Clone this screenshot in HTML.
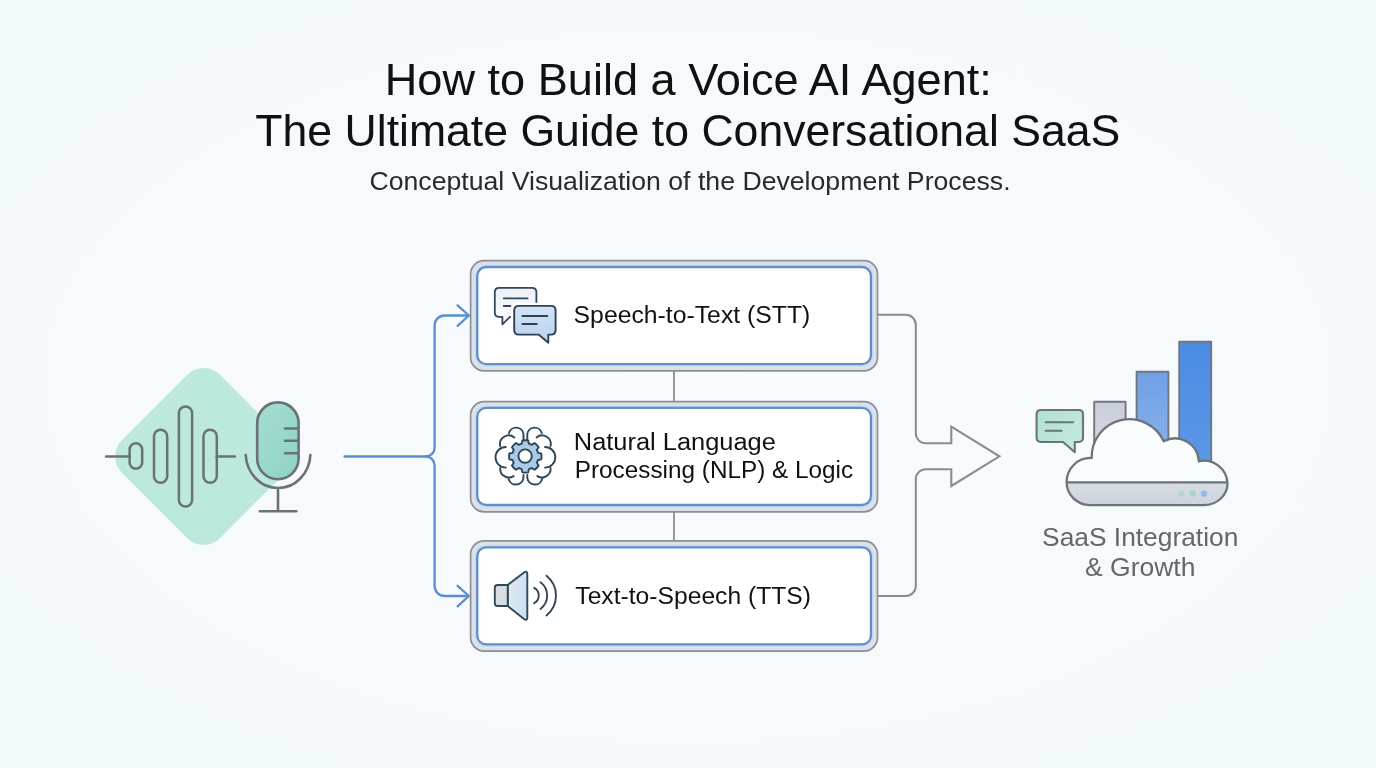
<!DOCTYPE html>
<html lang="en">
<head>
<meta charset="utf-8">
<title>How to Build a Voice AI Agent</title>
<style>
  html, body { margin: 0; padding: 0; }
  body {
    width: 1376px; height: 768px; overflow: hidden;
    background: #f5fafc;
    font-family: "Liberation Sans", sans-serif;
  }
  svg { will-change: transform; display: block; position: absolute; left: 0; top: 0; }
  text { font-family: "Liberation Sans", sans-serif; }
</style>
</head>
<body>
<svg width="1376" height="768" viewBox="0 0 1376 768">
  <defs>
    <radialGradient id="bg" cx="50%" cy="50%" r="75%">
      <stop offset="0" stop-color="#f8fbfc"/>
      <stop offset="0.6" stop-color="#f6fafc"/>
      <stop offset="1" stop-color="#f2f9fb"/>
    </radialGradient>
    <linearGradient id="micFill" x1="0" y1="0" x2="1" y2="1">
      <stop offset="0" stop-color="#a5ddd1"/>
      <stop offset="1" stop-color="#8fd3c6"/>
    </linearGradient>
    <linearGradient id="bubbleBlue" x1="0" y1="0" x2="0" y2="1">
      <stop offset="0" stop-color="#d3e3f5"/>
      <stop offset="1" stop-color="#b8d2ee"/>
    </linearGradient>
    <linearGradient id="bubbleGray" x1="0" y1="0" x2="0" y2="1">
      <stop offset="0" stop-color="#eef1f5"/>
      <stop offset="1" stop-color="#fafbfc"/>
    </linearGradient>
    <linearGradient id="coneFill" x1="0" y1="0" x2="1" y2="0">
      <stop offset="0" stop-color="#dde9f5"/>
      <stop offset="1" stop-color="#cddff1"/>
    </linearGradient>
    <linearGradient id="bar1" x1="0" y1="0" x2="0" y2="1">
      <stop offset="0" stop-color="#c9ced9"/>
      <stop offset="1" stop-color="#d9dde5"/>
    </linearGradient>
    <linearGradient id="bar2" x1="0" y1="0" x2="0" y2="1">
      <stop offset="0" stop-color="#6fa0e6"/>
      <stop offset="1" stop-color="#8fb5ea"/>
    </linearGradient>
    <linearGradient id="bar3" x1="0" y1="0" x2="0" y2="1">
      <stop offset="0" stop-color="#4a8be4"/>
      <stop offset="1" stop-color="#5e98e6"/>
    </linearGradient>
    <linearGradient id="cloudBase" x1="0" y1="0" x2="0" y2="1">
      <stop offset="0" stop-color="#d9dde5"/>
      <stop offset="1" stop-color="#cdd2dc"/>
    </linearGradient>
    <linearGradient id="greenBubble" x1="0" y1="0" x2="1" y2="1">
      <stop offset="0" stop-color="#b0e0d2"/>
      <stop offset="1" stop-color="#c8eadf"/>
    </linearGradient>
  </defs>

  <!-- background -->
  <rect x="0" y="0" width="1376" height="768" fill="url(#bg)"/>

  <!-- TITLE -->
  <g id="title" fill="#111" text-anchor="middle">
    <text x="688.3" y="95" font-size="43.6" textLength="607.2" lengthAdjust="spacingAndGlyphs">How to Build a Voice AI Agent:</text>
    <text x="687.8" y="146" font-size="43.6" textLength="865" lengthAdjust="spacingAndGlyphs">The Ultimate Guide to Conversational SaaS</text>
    <text x="690" y="190.4" font-size="25.3" fill="#2a2a2a" textLength="641.2" lengthAdjust="spacingAndGlyphs">Conceptual Visualization of the Development Process.</text>
  </g>

  <!-- LEFT: diamond + waveform + mic -->
  <g id="voice">
    <rect x="134.3" y="387.2" width="138.6" height="138.6" rx="23" ry="23" fill="#bde8dc" transform="rotate(45 203.6 456.5)"/>
    <!-- mic body -->
    <rect x="257.2" y="402.4" width="41.4" height="76.8" rx="20.7" ry="20.7" fill="url(#micFill)" stroke="#697277" stroke-width="2.6"/>
    <g fill="none" stroke="#697277" stroke-width="2.5" stroke-linecap="round">
      <!-- waveform -->
      <path d="M106 456.5 H129.6"/>
      <rect x="129.6" y="443.2" width="12.6" height="25.6" rx="6.3"/>
      <rect x="154" y="429.8" width="13.2" height="53" rx="6.6"/>
      <rect x="178.9" y="406.4" width="13.2" height="100.2" rx="6.6"/>
      <rect x="203.5" y="429.8" width="13.3" height="53" rx="6.6"/>
      <path d="M216.8 456.5 H234.8"/>
      <!-- mic lines -->
      <path d="M285 428.4 H298 M285 440.8 H298 M285 453.2 H298"/>
      <!-- mic arc, stem, base -->
      <path d="M245.7 455 A32.4 35 0 0 0 310.4 455" stroke-width="2.6"/>
      <path d="M278 490 V511.3 M259.8 511.3 H296.4" stroke-width="2.6"/>
    </g>
  </g>

  <!-- BLUE CONNECTORS -->
  <g id="blueconn" fill="none" stroke="#5c8dcf" stroke-width="2.3" stroke-linecap="round" stroke-linejoin="round">
    <path d="M344.5 456.5 H425.8"/>
    <path d="M425.8 456.5 A8.8 8.8 0 0 0 434.6 447.7 V325.5 A10 10 0 0 1 444.6 315.5 H468.6"/>
    <path d="M425.8 456.5 A8.8 8.8 0 0 1 434.6 465.3 V586 A10 10 0 0 0 444.6 596 H468.6"/>
    <path d="M457.6 305.3 L468.9 315.5 L457.6 325.8"/>
    <path d="M457.6 585.8 L468.9 596 L457.6 606.3"/>
  </g>

  <!-- GRAY CONNECTORS + BIG ARROW -->
  <g id="grayconn" fill="none" stroke="#898e96" stroke-width="2.1" stroke-linejoin="miter">
    <path d="M674 371 V401.5 M674 512 V540.5" stroke-width="1.8"/>
    <path d="M878 314.8 H905.8 A10 10 0 0 1 915.8 324.8 V433.3 A10 10 0 0 0 925.8 443.3 H951.3 V426.6 L999.4 456.3 L951.3 486 V469.2 H925.8 A10 10 0 0 0 915.8 479.2 V586 A10 10 0 0 1 905.8 596 H878"/>
  </g>

  <!-- BOXES -->
  <g id="boxes">
    <g id="box1">
      <rect x="470.6" y="260.7" width="406.9" height="110.2" rx="13.5" fill="#dce0e7" stroke="#8b9097" stroke-width="1.7"/>
      <rect x="477.25" y="267" width="393.7" height="97.1" rx="9" fill="none" stroke="#c9dbf1" stroke-width="4.6"/>
      <rect x="477.25" y="267" width="393.7" height="97.1" rx="9" fill="#ffffff" stroke="#5f8fcd" stroke-width="2.3"/>
    </g>
    <g id="box2">
      <rect x="470.6" y="401.6" width="406.9" height="110.2" rx="13.5" fill="#dce0e7" stroke="#8b9097" stroke-width="1.7"/>
      <rect x="477.25" y="407.9" width="393.7" height="97.1" rx="9" fill="none" stroke="#c9dbf1" stroke-width="4.6"/>
      <rect x="477.25" y="407.9" width="393.7" height="97.1" rx="9" fill="#ffffff" stroke="#5f8fcd" stroke-width="2.3"/>
    </g>
    <g id="box3">
      <rect x="470.6" y="540.9" width="406.9" height="110.2" rx="13.5" fill="#dce0e7" stroke="#8b9097" stroke-width="1.7"/>
      <rect x="477.25" y="547.3" width="393.7" height="97.1" rx="9" fill="none" stroke="#c9dbf1" stroke-width="4.6"/>
      <rect x="477.25" y="547.3" width="393.7" height="97.1" rx="9" fill="#ffffff" stroke="#5f8fcd" stroke-width="2.3"/>
    </g>
  </g>

  <!-- BOX LABELS -->
  <g id="labels" fill="#111" font-size="23.3">
    <text x="573.6" y="322.6" textLength="236.7" lengthAdjust="spacingAndGlyphs">Speech-to-Text (STT)</text>
    <text x="573.8" y="450.2" textLength="202.1" lengthAdjust="spacingAndGlyphs">Natural Language</text>
    <text x="574.8" y="478.3" textLength="278.3" lengthAdjust="spacingAndGlyphs">Processing (NLP) &amp; Logic</text>
    <text x="575.3" y="603.5" textLength="235.7" lengthAdjust="spacingAndGlyphs">Text-to-Speech (TTS)</text>
  </g>

  <!-- ICONS placeholder -->
  <g id="icon-chat" stroke-linejoin="round" stroke-linecap="round">
    <!-- back bubble -->
    <path d="M499.2 287.8 H532 Q536.4 287.8 536.4 292.2 V312.4 Q536.4 316.8 532 316.8 H510 L502.4 324.3 V316.8 H499.2 Q494.8 316.8 494.8 312.4 V292.2 Q494.8 287.8 499.2 287.8 Z" fill="url(#bubbleGray)" stroke="#33475a" stroke-width="1.8"/>
    <path d="M503.8 298.4 H527.6 M503.8 306 H510.4" fill="none" stroke="#33475a" stroke-width="1.8"/>
    <!-- front bubble (white halo first) -->
    <path d="M518.8 305.9 H551 Q555.6 305.9 555.6 310.5 V330 Q555.6 334.6 551 334.6 H548.3 V342.8 L538.6 334.6 H518.8 Q514.2 334.6 514.2 330 V310.5 Q514.2 305.9 518.8 305.9 Z" fill="#ffffff" stroke="#ffffff" stroke-width="6.4"/>
    <path d="M518.8 305.9 H551 Q555.6 305.9 555.6 310.5 V330 Q555.6 334.6 551 334.6 H548.3 V342.8 L538.6 334.6 H518.8 Q514.2 334.6 514.2 330 V310.5 Q514.2 305.9 518.8 305.9 Z" fill="url(#bubbleBlue)" stroke="#2d4256" stroke-width="1.9"/>
    <path d="M522.4 316 H547.4 M522.4 324 H536.8" fill="none" stroke="#2d4256" stroke-width="1.9"/>
  </g>
  <g id="icon-brain" transform="translate(525.1 455.7)" fill="none" stroke="#2f4558" stroke-width="1.9" stroke-linecap="round" stroke-linejoin="round">
    <path id="hemi" d="M-16.1 -22.6 A7.4 7.4 0 0 1 -1.6 -21.5 V-16.2
      M-24.9 -9.6 A8.7 8.7 0 0 1 -10.8 -18.2
      M-19.3 -8.7 A10.3 10.3 0 0 0 -19.3 11.9
      M-24.9 12.4 A8.7 8.7 0 0 0 -11.6 20.4
      M-16.5 23.2 A7.6 7.6 0 0 0 -1.6 22 V19.2"/>
    <use href="#hemi" transform="translate(0.6 0) scale(-1 1)"/>
    <path d="M-3.58 -12.70L-2.91 -15.94A16.2 16.2 0 0 1 2.91 -15.94L3.58 -12.70A13.2 13.2 0 0 1 6.45 -11.52L9.21 -13.33A16.2 16.2 0 0 1 13.33 -9.21L11.52 -6.45A13.2 13.2 0 0 1 12.70 -3.58L15.94 -2.91A16.2 16.2 0 0 1 15.94 2.91L12.70 3.58A13.2 13.2 0 0 1 11.52 6.45L13.33 9.21A16.2 16.2 0 0 1 9.21 13.33L6.45 11.52A13.2 13.2 0 0 1 3.58 12.70L2.91 15.94A16.2 16.2 0 0 1 -2.91 15.94L-3.58 12.70A13.2 13.2 0 0 1 -6.45 11.52L-9.21 13.33A16.2 16.2 0 0 1 -13.33 9.21L-11.52 6.45A13.2 13.2 0 0 1 -12.70 3.58L-15.94 2.91A16.2 16.2 0 0 1 -15.94 -2.91L-12.70 -3.58A13.2 13.2 0 0 1 -11.52 -6.45L-13.33 -9.21A16.2 16.2 0 0 1 -9.21 -13.33L-6.45 -11.52A13.2 13.2 0 0 1 -3.58 -12.70Z" fill="#a9cbe8" stroke-width="1.9" transform="translate(0.2 0.7)"/>
    <circle cx="0" cy="0.4" r="6.7" fill="#ffffff" stroke-width="1.9"/>
  </g>
  <g id="icon-speaker" stroke="#33475a" stroke-width="1.9" stroke-linejoin="round" stroke-linecap="round">
    <path d="M507.7 585 L524 572.4 Q527.3 570.4 527.3 574 V617.4 Q527.3 621 524 619 L507.7 606 Z" fill="url(#coneFill)"/>
    <path d="M497.6 585 H507.7 V606 H497.6 Q494.8 606 494.8 603.2 V587.8 Q494.8 585 497.6 585 Z" fill="#d8dbe1"/>
    <path d="M534.2 587.8 A8.8 8.8 0 0 1 534.2 603.2" fill="none"/>
    <path d="M540.5 582.3 A16.6 16.6 0 0 1 540.5 608.9" fill="none"/>
    <path d="M546.5 575.7 A25.5 25.5 0 0 1 546.5 615.4" fill="none"/>
  </g>

  <!-- RIGHT: SaaS -->
  <g id="saas" stroke-linejoin="round" stroke-linecap="round">
    <!-- bars -->
    <g stroke="#6f7780" stroke-width="1.9">
      <rect x="1094.2" y="401.8" width="31.4" height="75" fill="url(#bar1)"/>
      <rect x="1136.6" y="371.8" width="31.8" height="100" fill="url(#bar2)"/>
      <rect x="1179.2" y="341.8" width="32" height="130" fill="url(#bar3)"/>
    </g>
    <!-- green bubble -->
    <path d="M1041 410 H1078.6 Q1083 410 1083 414.4 V437.6 Q1083 442 1078.6 442 H1074.8 V452.2 L1063 442 H1041 Q1036.6 442 1036.6 437.6 V414.4 Q1036.6 410 1041 410 Z" fill="url(#greenBubble)" stroke="#6b7478" stroke-width="2.1"/>
    <path d="M1045.6 422.2 H1073.2 M1045.6 430.8 H1061.6" fill="none" stroke="#6b7478" stroke-width="2.1"/>
    <!-- cloud -->
    <path id="cloudShape" d="M1066.6 482.3 A24 24 0 0 1 1091.7 458 A37.7 37.7 0 0 1 1163.7 441.3 A23.8 23.8 0 0 1 1198.8 461.3 A23.6 23.6 0 0 1 1227.5 483.5 A23.5 21.6 0 0 1 1204 505.1 H1090 A23.5 22.8 0 0 1 1066.6 482.3 Z" fill="#f9fbfc" stroke="none"/>
    <path d="M1067 482.4 H1227.3 A23.4 21.6 0 0 1 1204 505.1 H1090 A23.5 22.8 0 0 1 1067 482.4 Z" fill="url(#cloudBase)" stroke="none"/>
    <circle cx="1181.6" cy="493.6" r="3.2" fill="#b7d6d1"/>
    <circle cx="1192.6" cy="493.6" r="3.2" fill="#a9d3cb"/>
    <circle cx="1204" cy="493.6" r="3.2" fill="#8fbbe8"/>
    <path d="M1066.6 482.3 A24 24 0 0 1 1091.7 458 A37.7 37.7 0 0 1 1163.7 441.3 A23.8 23.8 0 0 1 1198.8 461.3 A23.6 23.6 0 0 1 1227.5 483.5 A23.5 21.6 0 0 1 1204 505.1 H1090 A23.5 22.8 0 0 1 1066.6 482.3 Z M1067.4 482.4 H1227" fill="none" stroke="#6b737b" stroke-width="2.3"/>
  </g>
  <g id="saaslabel" fill="#62686e" font-size="26.2" text-anchor="middle">
    <text x="1140.2" y="545.5" textLength="196.2" lengthAdjust="spacingAndGlyphs">SaaS Integration</text>
    <text x="1140.2" y="575.5" textLength="110.4" lengthAdjust="spacingAndGlyphs">&amp; Growth</text>
  </g>
</svg>
</body>
</html>
